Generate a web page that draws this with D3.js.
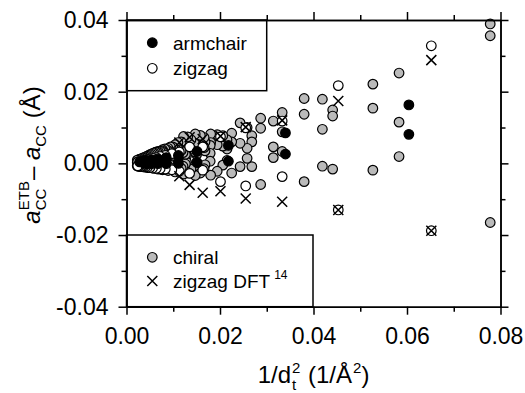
<!DOCTYPE html>
<html><head><meta charset="utf-8">
<script src="https://cdn.jsdelivr.net/npm/d3@7"></script>
<style>
body{margin:0;background:#fff;}
svg{display:block;font-family:"Liberation Sans",Arial,Helvetica,sans-serif;}
text{white-space:pre;}
</style></head><body>
<svg id="c" width="525" height="393"></svg>
<script>
const xTicks=[0,0.02,0.04,0.06,0.08];
const xMinor=[0.01,0.03,0.05,0.07];
const yTicks=[-0.04,-0.02,0,0.02,0.04];
const yMinor=[-0.03,-0.01,0.01,0.03];

const chiral=[
[0.0778,0.0389],[0.0778,0.0356],[0.0778,-0.0165],
[0.0583,0.0252],[0.0583,0.0115],[0.0583,0.0019],
[0.0527,0.0221],[0.0527,0.0154],[0.0527,-0.0019],
[0.0441,0.0149],[0.0441,0.0132],[0.0441,-0.0016],
[0.0419,0.0179],[0.0419,0.0095],[0.0419,-0.0008],
[0.0380,0.0181],[0.0380,0.0137],[0.0380,-0.0051],
[0.0333,0.0142],[0.0333,0.0088],[0.0333,0.0033],
[0.0314,0.0118],[0.0314,0.0046],[0.0314,0.0016],
[0.0287,0.0126],[0.0287,0.0098],[0.0287,-0.0059],
[0.0268,0.0077],[0.0268,0.0060],[0.0268,-0.0009],
[0.0258,0.0100],[0.0258,0.0042],[0.0258,0.0014],
[0.0243,0.0113],[0.0243,0.0056],[0.0243,-0.0009],
[0.0225,0.0084],[0.0225,0.0060],[0.0225,-0.0027],
[0.0215,0.0066],[0.0215,0.0040],[0.0215,0.0008],
[0.0206,0.0077],[0.0206,0.0048],[0.0206,-0.0005],
[0.0194,0.0080],[0.0194,0.0052],[0.0194,-0.0022],
[0.0180,0.0082],[0.0180,0.0058],[0.0180,-0.0033],
[0.0179,0.0050],[0.0179,0.0028],[0.0179,0.0006],
[0.0168,0.0060],[0.0168,0.0035],[0.0168,-0.0004],
[0.0166,0.0072],[0.0166,0.0044],[0.0166,-0.0015],
[0.0158,0.0078],[0.0158,0.0050],[0.0158,-0.0027],
[0.0147,0.0082],[0.0147,0.0055],[0.0147,-0.0034],
[0.0150,0.0045],[0.0150,0.0025],[0.0150,0.0003],
[0.0146,0.0055],[0.0146,0.0032],[0.0146,-0.0007],
[0.0138,0.0066],[0.0138,0.0040],[0.0138,-0.0016],
[0.0131,0.0074],[0.0131,0.0046],[0.0131,-0.0025],
[0.0122,0.0075],[0.0122,0.0050],[0.0122,-0.0030],
[0.0128,0.0036],[0.0128,0.0020],[0.0128,0.0004],
[0.0126,0.0042],[0.0126,0.0025],[0.0126,-0.0002],
[0.0121,0.0052],[0.0121,0.0030],[0.0121,-0.0008],
[0.0117,0.0060],[0.0117,0.0036],[0.0117,-0.0014],
[0.0110,0.0058],[0.0110,0.0040],[0.0110,-0.0020],
[0.0104,0.0052],[0.0104,0.0038],[0.0104,-0.0024],
[0.0109,0.0030],[0.0109,0.0016],[0.0109,0.0002],
[0.0107,0.0036],[0.0107,0.0020],[0.0107,-0.0004],
[0.0103,0.0042],[0.0103,0.0025],[0.0103,-0.0008],
[0.0099,0.0046],[0.0099,0.0030],[0.0099,-0.0013],
[0.0094,0.0046],[0.0094,0.0033],[0.0094,-0.0017],
[0.0089,0.0042],[0.0089,0.0032],[0.0089,-0.0020],
[0.0095,0.0026],[0.0095,0.0013],[0.0095,0.0001],
[0.0093,0.0031],[0.0093,0.0017],[0.0093,-0.0004],
[0.0090,0.0035],[0.0090,0.0020],[0.0090,-0.0009],
[0.0086,0.0038],[0.0086,0.0023],[0.0086,-0.0013],
[0.0082,0.0040],[0.0082,0.0025],[0.0082,-0.0016],
[0.0077,0.0038],[0.0077,0.0026],[0.0077,-0.0018],
[0.0085,0.0022],[0.0085,0.0011],[0.0085,0.0001],
[0.0083,0.0026],[0.0083,0.0014],[0.0083,-0.0003],
[0.0081,0.0030],[0.0081,0.0017],[0.0081,-0.0007],
[0.0078,0.0033],[0.0078,0.0019],[0.0078,-0.0010],
[0.0075,0.0035],[0.0075,0.0021],[0.0075,-0.0013],
[0.0072,0.0034],[0.0072,0.0022],[0.0072,-0.0015],
[0.0068,0.0033],[0.0068,0.0022],[0.0068,-0.0016],
[0.0065,0.0032],[0.0065,0.0018],[0.0065,-0.0012],
[0.0062,0.0031],[0.0062,0.0016],[0.0062,-0.0014],
[0.0059,0.0029],[0.0059,0.0015],[0.0059,-0.0012],
[0.0056,0.0028],[0.0056,0.0014],[0.0056,-0.0013],
[0.0053,0.0026],[0.0053,0.0012],[0.0053,-0.0012],
[0.0050,0.0024],[0.0050,0.0011],[0.0050,-0.0012],
[0.0047,0.0022],[0.0047,0.0010],[0.0047,-0.0011],
[0.0044,0.0020],[0.0044,0.0009],[0.0044,-0.0011],
[0.0041,0.0018],[0.0041,0.0008],[0.0041,-0.0010],
[0.0038,0.0016],[0.0038,0.0007],[0.0038,-0.0010],
[0.0035,0.0015],[0.0035,0.0006],[0.0035,-0.0009],
[0.0032,0.0013],[0.0032,0.0005],[0.0032,-0.0009],
[0.0029,0.0012],[0.0029,0.0004],[0.0029,-0.0008],
[0.0026,0.0010],[0.0026,0.0003],[0.0026,-0.0008],
[0.0023,0.0009],[0.0023,0.0003],[0.0023,-0.0007]
];

const zigzag=[
[0.0652,0.0328],[0.0652,-0.0188],
[0.0453,0.0217],[0.0453,-0.0130],
[0.0333,0.0118],[0.0333,-0.0037],
[0.0255,0.0099],[0.0255,-0.0063],
[0.0201,0.0074],[0.0201,-0.0051],
[0.0163,0.0046],[0.0163,-0.0019],
[0.0135,0.0046],[0.0135,-0.0028],
[0.0113,0.0032],[0.0113,-0.0022],
[0.0097,0.0027],[0.0097,-0.0018],
[0.0083,0.0022],[0.0083,-0.0016],
[0.0072,0.0019],[0.0072,-0.0015],
[0.0064,0.0016],[0.0064,-0.0014],
[0.0056,0.0014],[0.0056,-0.0013],
[0.0050,0.0012],[0.0050,-0.0012],
[0.0045,0.0010],[0.0045,-0.0011],
[0.0041,0.0009],[0.0041,-0.0010],
[0.0037,0.0008],[0.0037,-0.0010],
[0.0034,0.0007],[0.0034,-0.0009],
[0.0031,0.0006],[0.0031,-0.0009],
[0.0028,0.0005],[0.0028,-0.0008],
[0.0026,0.0005],[0.0026,-0.0008],
[0.0024,0.0004],[0.0024,-0.0007]
];

const armchair=[
[0.0604,0.0163],[0.0604,0.0081],
[0.0340,0.0085],[0.0340,0.0026],
[0.0218,0.0050],[0.0218,0.0006],
[0.0151,0.0033],[0.0151,0.0002],
[0.0111,0.0022],[0.0111,0.0000],
[0.0085,0.0016],[0.0085,-0.0001],
[0.0067,0.0012],[0.0067,-0.0001],
[0.0054,0.0009],[0.0054,-0.0001],
[0.0045,0.0007],[0.0045,-0.0001],
[0.0038,0.0006],[0.0038,0.0000],
[0.0032,0.0005],[0.0028,0.0004]
];

const zigzagDFT=[
[0.0652,0.0288],[0.0652,-0.0188],
[0.0453,0.0174],[0.0453,-0.0130],
[0.0333,0.0120],[0.0333,-0.0107],
[0.0255,0.0101],[0.0255,-0.0098],
[0.0201,0.0076],[0.0201,-0.0078],
[0.0163,0.0068],[0.0163,-0.0082],
[0.0135,0.0073],[0.0135,-0.0060],
[0.0113,0.0058],[0.0113,-0.0036]
];

const svg=d3.select("#c");
const x=d3.scaleLinear().domain([0,0.08]).range([126.5,500.5]);
const y=d3.scaleLinear().domain([-0.04,0.04]).range([306.7,20]);
const R=4.8;
const fmt=d=>d.toFixed(2);

// points
const pts=svg.append("g");
pts.selectAll("circle.ch").data(chiral).join("circle").attr("class","ch")
  .attr("cx",d=>x(d[0])).attr("cy",d=>y(d[1])).attr("r",R)
  .attr("fill","#bababa").attr("stroke","#000").attr("stroke-width",1.2);
pts.selectAll("circle.zz").data(zigzag).join("circle").attr("class","zz")
  .attr("cx",d=>x(d[0])).attr("cy",d=>y(d[1])).attr("r",R)
  .attr("fill","#fff").attr("stroke","#000").attr("stroke-width",1.2);
pts.selectAll("circle.ac").data(armchair).join("circle").attr("class","ac")
  .attr("cx",d=>x(d[0])).attr("cy",d=>y(d[1])).attr("r",R)
  .attr("fill","#000").attr("stroke","#000").attr("stroke-width",1.2);
const X=5;
pts.selectAll("path.dft").data(zigzagDFT).join("path").attr("class","dft")
  .attr("d",d=>{const cx=x(d[0]),cy=y(d[1]);return `M${cx-X},${cy-X}L${cx+X},${cy+X}M${cx-X},${cy+X}L${cx+X},${cy-X}`;})
  .attr("stroke","#000").attr("stroke-width",1.5).attr("fill","none");

// legends
function legendBox(x0,y0,x1,y1){
  svg.append("rect").attr("x",x0).attr("y",y0).attr("width",x1-x0).attr("height",y1-y0)
    .attr("fill","#fff").attr("stroke","#000").attr("stroke-width",1.5);
}
legendBox(x(0),y(0.04),266.7,90.7);
legendBox(x(0),235,313,y(-0.04));
const lg=svg.append("g").attr("font-size",19);
lg.append("circle").attr("cx",152.3).attr("cy",42.7).attr("r",R).attr("fill","#000").attr("stroke","#000").attr("stroke-width",1.2);
lg.append("text").attr("x",173).attr("y",49.5).text("armchair");
lg.append("circle").attr("cx",152.3).attr("cy",68.3).attr("r",R).attr("fill","#fff").attr("stroke","#000").attr("stroke-width",1.2);
lg.append("text").attr("x",173).attr("y",74.5).text("zigzag");
lg.append("circle").attr("cx",152.3).attr("cy",257.3).attr("r",R).attr("fill","#bababa").attr("stroke","#000").attr("stroke-width",1.2);
lg.append("text").attr("x",173).attr("y",263.5).text("chiral");
lg.append("path").attr("d",`M${152.3-X},${281-X}L${152.3+X},${281+X}M${152.3-X},${281+X}L${152.3+X},${281-X}`)
  .attr("stroke","#000").attr("stroke-width",1.5);
const dftT=lg.append("text").attr("x",173).attr("y",287.5).text("zigzag DFT");
const dw=dftT.node().getComputedTextLength();
lg.append("text").attr("x",173+dw+4).attr("y",279).attr("font-size",12).text("14");

// axes
function styleAx(g){g.select(".domain").attr("stroke-width",1.5);g.selectAll(".tick line").attr("stroke-width",1.5);g.selectAll("text").attr("font-size",23).attr("font-family",null).attr("fill","#000");}
const H=y(-0.04), T=y(0.04), L=x(0), Rr=x(0.08);
svg.append("g").attr("transform",`translate(0,${H})`).call(d3.axisBottom(x).tickValues(xTicks).tickSize(8).tickSizeOuter(0).tickPadding(13).tickFormat(fmt)).call(styleAx);
svg.append("g").attr("transform",`translate(0,${H})`).call(d3.axisBottom(x).tickValues(xMinor).tickSize(5).tickSizeOuter(0).tickFormat("")).call(styleAx);
svg.append("g").attr("transform",`translate(0,${T})`).call(d3.axisTop(x).tickValues(xTicks).tickSize(8).tickSizeOuter(0).tickFormat("")).call(styleAx);
svg.append("g").attr("transform",`translate(0,${T})`).call(d3.axisTop(x).tickValues(xMinor).tickSize(5).tickSizeOuter(0).tickFormat("")).call(styleAx);
svg.append("g").attr("transform",`translate(${L},0)`).call(d3.axisLeft(y).tickValues(yTicks).tickSize(8).tickSizeOuter(0).tickPadding(10).tickFormat(fmt)).call(styleAx);
svg.append("g").attr("transform",`translate(${L},0)`).call(d3.axisLeft(y).tickValues(yMinor).tickSize(5).tickSizeOuter(0).tickFormat("")).call(styleAx);
svg.append("g").attr("transform",`translate(${Rr},0)`).call(d3.axisRight(y).tickValues(yTicks).tickSize(8).tickSizeOuter(0).tickFormat("")).call(styleAx);
svg.append("g").attr("transform",`translate(${Rr},0)`).call(d3.axisRight(y).tickValues(yMinor).tickSize(5).tickSizeOuter(0).tickFormat("")).call(styleAx);

// titles
function piece(g,str,px,py,size,italic){
  const t=g.append("text").attr("x",px).attr("y",py).attr("font-size",size).text(str);
  if(italic) t.attr("font-style","italic");
  return t.node().getComputedTextLength();
}
// x title
const xt=svg.append("g");
let cur=0;
cur+=piece(xt,"1/d",cur,0,24);
let w1=piece(xt,"t",cur+1,7,15);
let w2=piece(xt,"2",cur+1,-10,15);
cur+=Math.max(w1,w2)+2;
cur+=piece(xt,"\u00A0(1/Å",cur,0,24);
cur+=piece(xt,"2",cur+1,-10,15)+1;
cur+=piece(xt,")",cur,0,24);
xt.attr("transform",`translate(${(L+Rr)/2-cur/2},383)`);

// y title
const yg=svg.append("g");
const yt=yg.append("g");
cur=0;
cur+=piece(yt,"a",cur,0,24,true);
w1=piece(yt,"CC",cur,6,15);
w2=piece(yt,"ETB",cur,-11,15);
cur+=Math.max(w1,w2)+1;
cur+=piece(yt,"\u2013\u00A0",cur,0,24);
cur+=piece(yt,"a",cur,0,24,true);
cur+=piece(yt,"CC",cur,6,15);
cur+=piece(yt,"\u00A0(Å)",cur,0,24);
yt.attr("transform",`translate(${-cur/2},0)`);
yg.attr("transform","translate(40,155) rotate(-90)");
</script></body></html>
